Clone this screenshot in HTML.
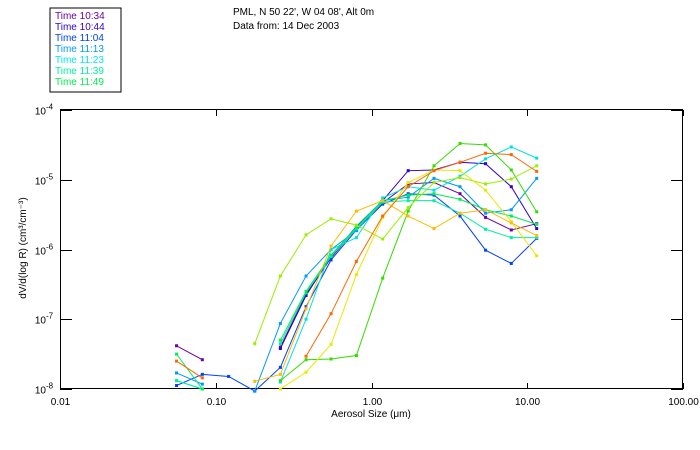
<!DOCTYPE html>
<html><head><meta charset="utf-8"><style>
body{margin:0;background:#fff;width:700px;height:450px;overflow:hidden;font-family:"Liberation Sans",sans-serif}
svg{display:block}
</style></head><body>
<svg id="chart" width="700" height="450" xmlns="http://www.w3.org/2000/svg" font-family="Liberation Sans, sans-serif" font-size="10">
<g>
<rect x="50" y="8" width="71" height="84" fill="none" stroke="#000"/>
<text x="55" y="19" fill="#7000a0">Time 10:34</text>
<text x="55" y="30" fill="#3000d0">Time 10:44</text>
<text x="55" y="41" fill="#0040ff">Time 11:04</text>
<text x="55" y="52" fill="#0099ff">Time 11:13</text>
<text x="55" y="63" fill="#00e8e8">Time 11:23</text>
<text x="55" y="74" fill="#00f0a0">Time 11:39</text>
<text x="55" y="85" fill="#00ee50">Time 11:49</text>
</g>
<text x="233" y="15">PML, N 50 22', W 04 08', Alt 0m</text>
<text x="233" y="29">Data from: 14 Dec 2003</text>
<rect x="60.5" y="109.5" width="622" height="279" fill="none" stroke="#000"/>
<g id="axes"></g>
<g id="series"></g>
<text x="371" y="417" text-anchor="middle">Aerosol Size (μm)</text>
<text transform="translate(26,248) rotate(-90)" text-anchor="middle">dV/d(log R) (cm³/cm⁻³)</text>
</svg>
<script>
const sizes=[0.056,0.082,0.121,0.178,0.26,0.38,0.55,0.8,1.18,1.72,2.52,3.7,5.4,7.9,11.5];
const xTicks=[0.01,0.1,1,10,100];
const xTickLabels=["0.01","0.10","1.00","10.00","100.00"];
const yTickExps=[-8,-7,-6,-5,-4];
const seriesColors=["#7000a0","#3000d0","#0040ff","#0099ff","#00e0e0","#00f0a0","#00ee50","#33dd00","#99ee00","#e8e800","#ffbb00","#ff6600"];
const s1034=[-7.38,-7.58,null,null,-7.40,-6.64,-6.12,-5.69,-5.33,-5.06,-5.04,-5.20,-5.54,-5.72,-5.63];
const s1044=[null,null,null,null,-7.42,-6.66,-6.10,-5.67,-5.30,-4.87,-4.86,-4.75,-4.77,-5.10,-5.70];
const s1104=[-7.95,-7.79,-7.82,-8.03,-7.69,-6.82,-6.15,-5.72,-5.35,-5.20,-5.22,-5.52,-6.01,-6.20,-5.84];
const s1113=[-7.77,-7.93,null,-8.03,-7.06,-6.38,-6.00,-5.73,-5.30,-5.25,-4.98,-5.10,-5.48,-5.43,-4.98];
const s1123=[-7.88,-8.0,null,null,-7.90,-7.0,-6.00,-5.83,-5.26,-5.10,-5.15,-4.95,-4.70,-4.53,-4.69];
const s1139=[-7.88,-8.0,null,null,-7.35,-6.62,-6.10,-5.70,-5.32,-5.30,-5.30,-5.48,-5.71,-5.83,-5.83];
const s1149=[-7.5,-8.0,null,null,-7.30,-6.60,-6.08,-5.68,-5.30,-5.22,-5.20,-5.28,-5.43,-5.52,-5.64];
const s1159=[null,null,null,null,-7.88,-7.58,-7.57,-7.52,-6.41,-5.45,-4.80,-4.48,-4.50,-4.86,-5.46];
const s1209=[null,null,null,-7.35,-6.38,-5.79,-5.56,-5.65,-5.85,-5.40,-5.04,-4.97,-5.06,-4.99,-4.80];
const s1219=[null,null,null,null,-8.0,-7.76,-7.36,-6.36,-5.54,-5.04,-4.86,-4.87,-5.15,-5.60,-6.09];
const s1229=[null,null,null,-7.89,-7.79,-6.85,-5.95,-5.45,-5.30,-5.52,-5.70,-5.48,-5.43,-5.62,-5.80];
const s1239=[-7.6,-7.84,null,null,null,-7.53,-6.92,-6.17,-5.52,-5.10,-4.87,-4.75,-4.62,-4.64,-4.88];
const allSeries=[s1034,s1044,s1104,s1113,s1123,s1139,s1149,s1159,s1209,s1219,s1229,s1239];

const L=60,R=683,T=110,B=389;
function xs(v){return L+(Math.log10(v)+2)/4*(R-L);}
function ys(e){return B-(e+8)/4*(B-T);}
const NS="http://www.w3.org/2000/svg";
function mk(tag,attrs,parent){const el=document.createElementNS(NS,tag);for(const k in attrs)el.setAttribute(k,attrs[k]);parent.appendChild(el);return el;}
const axes=document.getElementById('axes');
xTicks.forEach((t,i)=>{
  const x=Math.round(xs(t))+0.5;
  const tk=mk('line',{x1:x,x2:x,y1:B,y2:B-6,stroke:'#000'},axes);
  
  
  const tk2=mk('line',{x1:x,x2:x,y1:T,y2:T+6,stroke:'#000'},axes);
  
  
  const lb=mk('text',{x:x,y:B+16,'text-anchor':'middle'},axes);
  lb.textContent=xTickLabels[i];
  
  
});
yTickExps.forEach((e,i)=>{
  const y=Math.round(ys(e))+0.5;
  const tk=mk('line',{x1:L,x2:L+12,y1:y,y2:y,stroke:'#000'},axes);
  
  
  const tk2=mk('line',{x1:R,x2:R-12,y1:y,y2:y,stroke:'#000'},axes);
  
  
  const lb=mk('text',{x:L-14,y:y+4,'text-anchor':'end'},axes);
  lb.textContent='10';
  
  
  const sp=mk('text',{x:L-14,y:y-1,'font-size':'8'},axes);
  sp.textContent=String(e);
  
  
});
const sg=document.getElementById('series');
allSeries.forEach((s,si)=>{
  const col=seriesColors[si];
  const g=mk('g',{},sg);
  
  
  let seg=[];const segs=[];
  s.forEach((v,i)=>{if(v===null){if(seg.length)segs.push(seg);seg=[];}else seg.push([xs(sizes[i]),ys(v)]);});
  if(seg.length)segs.push(seg);
  segs.forEach(sp=>{
    const pl=mk('polyline',{points:sp.map(p=>p.join(',')).join(' '),fill:'none',stroke:col,'stroke-width':1},g);
    
    
    sp.forEach(p=>{const r=mk('rect',{x:p[0]-1.5,y:p[1]-1.5,width:3,height:3,fill:col},g);
      
      });
  });
});
</script>
</body></html>
